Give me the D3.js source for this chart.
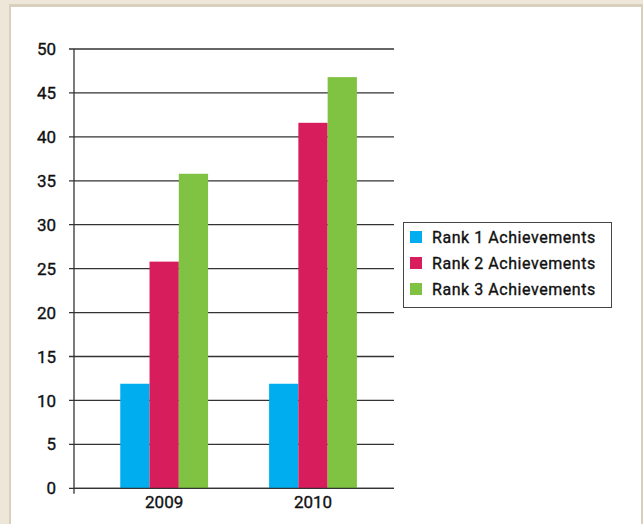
<!DOCTYPE html>
<html><head><meta charset="utf-8">
<script src="https://cdn.jsdelivr.net/npm/d3@7/dist/d3.min.js"></script>
<style>
html,body{margin:0;padding:0;background:#ede6d9;}
svg{display:block;}
text{font-family:Roboto,"DejaVu Sans",sans-serif;fill:#111;font-weight:400;stroke:#111;stroke-width:0.35px;}
</style></head><body>
<svg id="chart" width="643" height="524"></svg>
<script>
const categories = ["2009", "2010"];
const seriesNames = ["Rank 1 Achievements", "Rank 2 Achievements", "Rank 3 Achievements"];
const rank1 = [11.9, 11.9];
const rank2 = [25.8, 41.6];
const rank3 = [35.8, 46.8];
const yTicks = [0, 5, 10, 15, 20, 25, 30, 35, 40, 45, 50];
const colors = ["#00aeef", "#d81d5c", "#80c242"];

const seriesValues = [rank1, rank2, rank3];
const svg = d3.select("#chart");

// frame
svg.append("rect").attr("x", 0).attr("y", 0).attr("width", 643).attr("height", 524).attr("fill", "#ede6d9");
svg.append("rect").attr("x", 9).attr("y", 4).attr("width", 634).attr("height", 530).attr("fill", "#d8d0bd");
svg.append("rect").attr("x", 11).attr("y", 7).attr("width", 630).attr("height", 530).attr("fill", "#ffffff");

const pL = 74, pR = 394, pT = 49, pB = 488.3;
const x = d3.scaleBand().domain(categories).range([pL, pR])
  .paddingInner(0.41).paddingOuter(0.28).align(0.555);
const xs = d3.scaleBand().domain(d3.range(seriesNames.length)).range([0, x.bandwidth()]);
const y = d3.scaleLinear().domain([0, 50]).range([pB, pT]);

// gridlines
svg.append("g").selectAll("line").data(yTicks).join("line")
  .attr("x1", pL - 5).attr("x2", pR)
  .attr("y1", d => y(d)).attr("y2", d => y(d))
  .attr("stroke", "#333").attr("stroke-width", 1.3);

// bars
const groups = svg.append("g").selectAll("g").data(categories).join("g")
  .attr("transform", d => `translate(${x(d)},0)`);
groups.selectAll("rect")
  .data((c, ci) => seriesValues.map((s, si) => ({si, v: s[ci]})))
  .join("rect")
  .attr("x", d => xs(d.si)).attr("width", xs.bandwidth())
  .attr("y", d => y(d.v)).attr("height", d => y(0) - y(d.v))
  .attr("fill", d => colors[d.si]);

// y axis line
svg.append("line").attr("x1", pL).attr("x2", pL).attr("y1", pT).attr("y2", pB + 5.5)
  .attr("stroke", "#333").attr("stroke-width", 1.3);
// x baseline
svg.append("line").attr("x1", pL).attr("x2", pR).attr("y1", y(0)).attr("y2", y(0))
  .attr("stroke", "#333").attr("stroke-width", 1.3);

// y labels
svg.append("g").selectAll("text").data(yTicks).join("text")
  .attr("x", 56).attr("y", d => y(d)).attr("dy", "0.36em")
  .attr("text-anchor", "end").attr("font-size", 17).text(d => d);

// x labels
svg.append("g").selectAll("text").data(categories).join("text")
  .attr("x", d => x(d) + x.bandwidth() / 2).attr("y", 508)
  .attr("text-anchor", "middle").attr("font-size", 17).text(d => d);

// legend
const lg = svg.append("g").attr("transform", "translate(403,222)");
lg.append("rect").attr("x", 0.5).attr("y", 0.5).attr("width", 208).attr("height", 85)
  .attr("fill", "#fff").attr("stroke", "#444").attr("stroke-width", 1);
const items = lg.selectAll("g.it").data(seriesNames).join("g").attr("class", "it")
  .attr("transform", (d, i) => `translate(0,${15 + i * 26})`);
items.append("rect").attr("x", 7).attr("y", -6).attr("width", 12).attr("height", 12)
  .attr("fill", (d, i) => colors[i]);
items.append("text").attr("x", 29).attr("y", 0).attr("dy", "0.36em")
  .attr("font-size", 16).attr("letter-spacing", 0.55).text(d => d);
</script>
</body></html>
